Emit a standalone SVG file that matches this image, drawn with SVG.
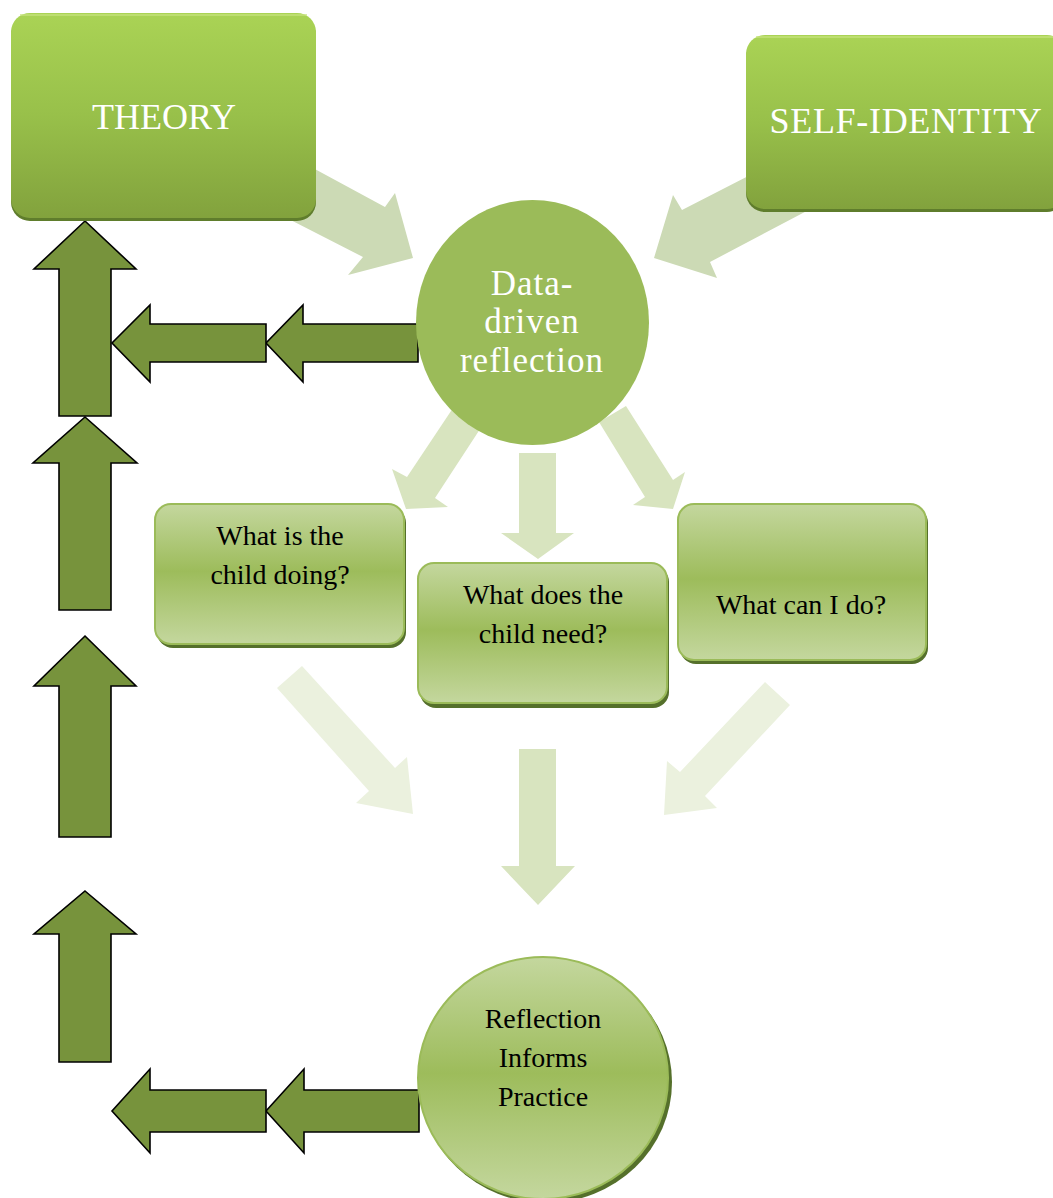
<svg xmlns="http://www.w3.org/2000/svg" width="1053" height="1198" viewBox="0 0 1053 1198">
<defs>
<linearGradient id="gTop" x1="0" y1="0" x2="0" y2="1">
<stop offset="0" stop-color="#aad355"/>
<stop offset="0.5" stop-color="#98c04a"/>
<stop offset="1" stop-color="#82a23d"/>
</linearGradient>
<linearGradient id="gSoft" x1="0" y1="0" x2="0" y2="1">
<stop offset="0" stop-color="#c4d79e"/>
<stop offset="0.48" stop-color="#9dbc5b"/>
<stop offset="1" stop-color="#c4d79e"/>
</linearGradient>
<style>
.dark{fill:#77933c;stroke:#000;stroke-width:1.6;stroke-linejoin:miter}
.la{fill:#ccdab5}
.lb{fill:#d8e4bf}
.lc{fill:#ebf1de}
.shadowTop{fill:#5f7d2c}
.shadowSoft{fill:#55702b}
.boxTop{fill:url(#gTop)}
.boxSoft{fill:url(#gSoft);stroke:#9bbb59;stroke-width:2}
.tw{fill:#fff;text-anchor:middle}
.tb{fill:#000;text-anchor:middle;font-size:28px}
</style>
</defs>
<g id="connectors">
<polygon class="la" points="300,161 385,207 395,193 413,258 348,275 363,257 275,212"/>
<polygon class="la" points="760,170 682,210 673,195 654,258 717,278 710,262 820,204"/>
<polygon class="lb" points="455,405 484,423 435,498 448,507 406,509 392,469 407,477"/>
<polygon class="lb" points="519,453 556,453 556,533 574,533 538,559 501,533 519,533"/>
<polygon class="lb" points="626,406 599,422 645,497 633,505 673,509 685,472 673,480"/>
<polygon class="lc" points="302,666 277,688 369,791 356,803 413,814 407,757 395,768"/>
<polygon class="lb" points="519,749 556,749 556,866 575,866 538,905 501,866 519,866"/>
<polygon class="lc" points="765,682 790,705 705,796 717,808 664,815 667,761 680,772"/>
<polygon class="dark" points="85,221 136,269 111,269 111,416 59,416 59,269 34,269"/>
<polygon class="dark" points="85,417 137,463 111,463 111,610 59,610 59,463 33,463"/>
<polygon class="dark" points="85,636 136,686 111,686 111,837 59,837 59,686 34,686"/>
<polygon class="dark" points="85,891 136,934 111,934 111,1062 59,1062 59,934 34,934"/>
<polygon class="dark" points="418,324 418,362 303,362 303,382 266,343 303,305 303,324"/>
<polygon class="dark" points="266,324 266,362 150,362 150,382 112,343 150,305 150,324"/>
<polygon class="dark" points="419,1090 419,1132 304,1132 304,1153 266,1111 304,1069 304,1090"/>
<polygon class="dark" points="266,1090 266,1132 150,1132 150,1153 112,1111 150,1069 150,1090"/>
</g>
<g id="theory">
<rect class="shadowTop" x="11" y="16" width="305" height="205" rx="19"/>
<rect class="boxTop" x="11" y="13" width="305" height="205" rx="19"/>
<rect x="20" y="14" width="287" height="2" fill="#c6e27e" opacity="0.7"/>
<text class="tw" x="164" y="129" font-size="36" font-family="'Liberation Serif', 'Times New Roman', serif">THEORY</text>
</g>
<g id="self-identity">
<rect class="shadowTop" x="746" y="38" width="320" height="174" rx="19"/>
<rect class="boxTop" x="746" y="35" width="320" height="174" rx="19"/>
<rect x="756" y="36" width="300" height="2" fill="#c6e27e" opacity="0.7"/>
<text class="tw" x="906" y="133" font-size="36" letter-spacing="0.7" font-family="'Liberation Serif', 'Times New Roman', serif">SELF-IDENTITY</text>
</g>
<g id="data-driven">
<ellipse cx="532.5" cy="322.5" rx="116.5" ry="122.5" fill="#9bbb59"/>
<text class="tw" font-size="35" letter-spacing="1" font-family="'Liberation Serif', 'Times New Roman', serif"><tspan x="532" y="295">Data-</tspan><tspan x="532" y="333">driven</tspan><tspan x="532" y="372">reflection</tspan></text>
</g>
<g id="q-doing">
<rect class="shadowSoft" x="157" y="507" width="249" height="141" rx="16"/>
<rect class="boxSoft" x="155" y="504" width="249" height="140" rx="16"/>
<text class="tb" font-family="'Liberation Serif', 'Times New Roman', serif"><tspan x="280" y="545">What is the</tspan><tspan x="280" y="584">child doing?</tspan></text>
</g>
<g id="q-need">
<rect class="shadowSoft" x="420" y="566" width="249" height="142" rx="16"/>
<rect class="boxSoft" x="418" y="563" width="249" height="140" rx="16"/>
<text class="tb" font-family="'Liberation Serif', 'Times New Roman', serif"><tspan x="543" y="604">What does the</tspan><tspan x="543" y="643">child need?</tspan></text>
</g>
<g id="q-can">
<rect class="shadowSoft" x="680" y="507" width="248" height="157" rx="16"/>
<rect class="boxSoft" x="678" y="504" width="248" height="156" rx="16"/>
<text class="tb" x="801" y="614" font-family="'Liberation Serif', 'Times New Roman', serif">What can I do?</text>
</g>
<g id="reflection-informs-practice">
<ellipse cx="546" cy="1082" rx="126" ry="121" fill="#55702b"/>
<ellipse cx="543" cy="1078" rx="125" ry="121" fill="url(#gSoft)" stroke="#9bbb59" stroke-width="2"/>
<text class="tb" font-family="'Liberation Serif', 'Times New Roman', serif"><tspan x="543" y="1028">Reflection</tspan><tspan x="543" y="1067">Informs</tspan><tspan x="543" y="1106">Practice</tspan></text>
</g>
</svg>
